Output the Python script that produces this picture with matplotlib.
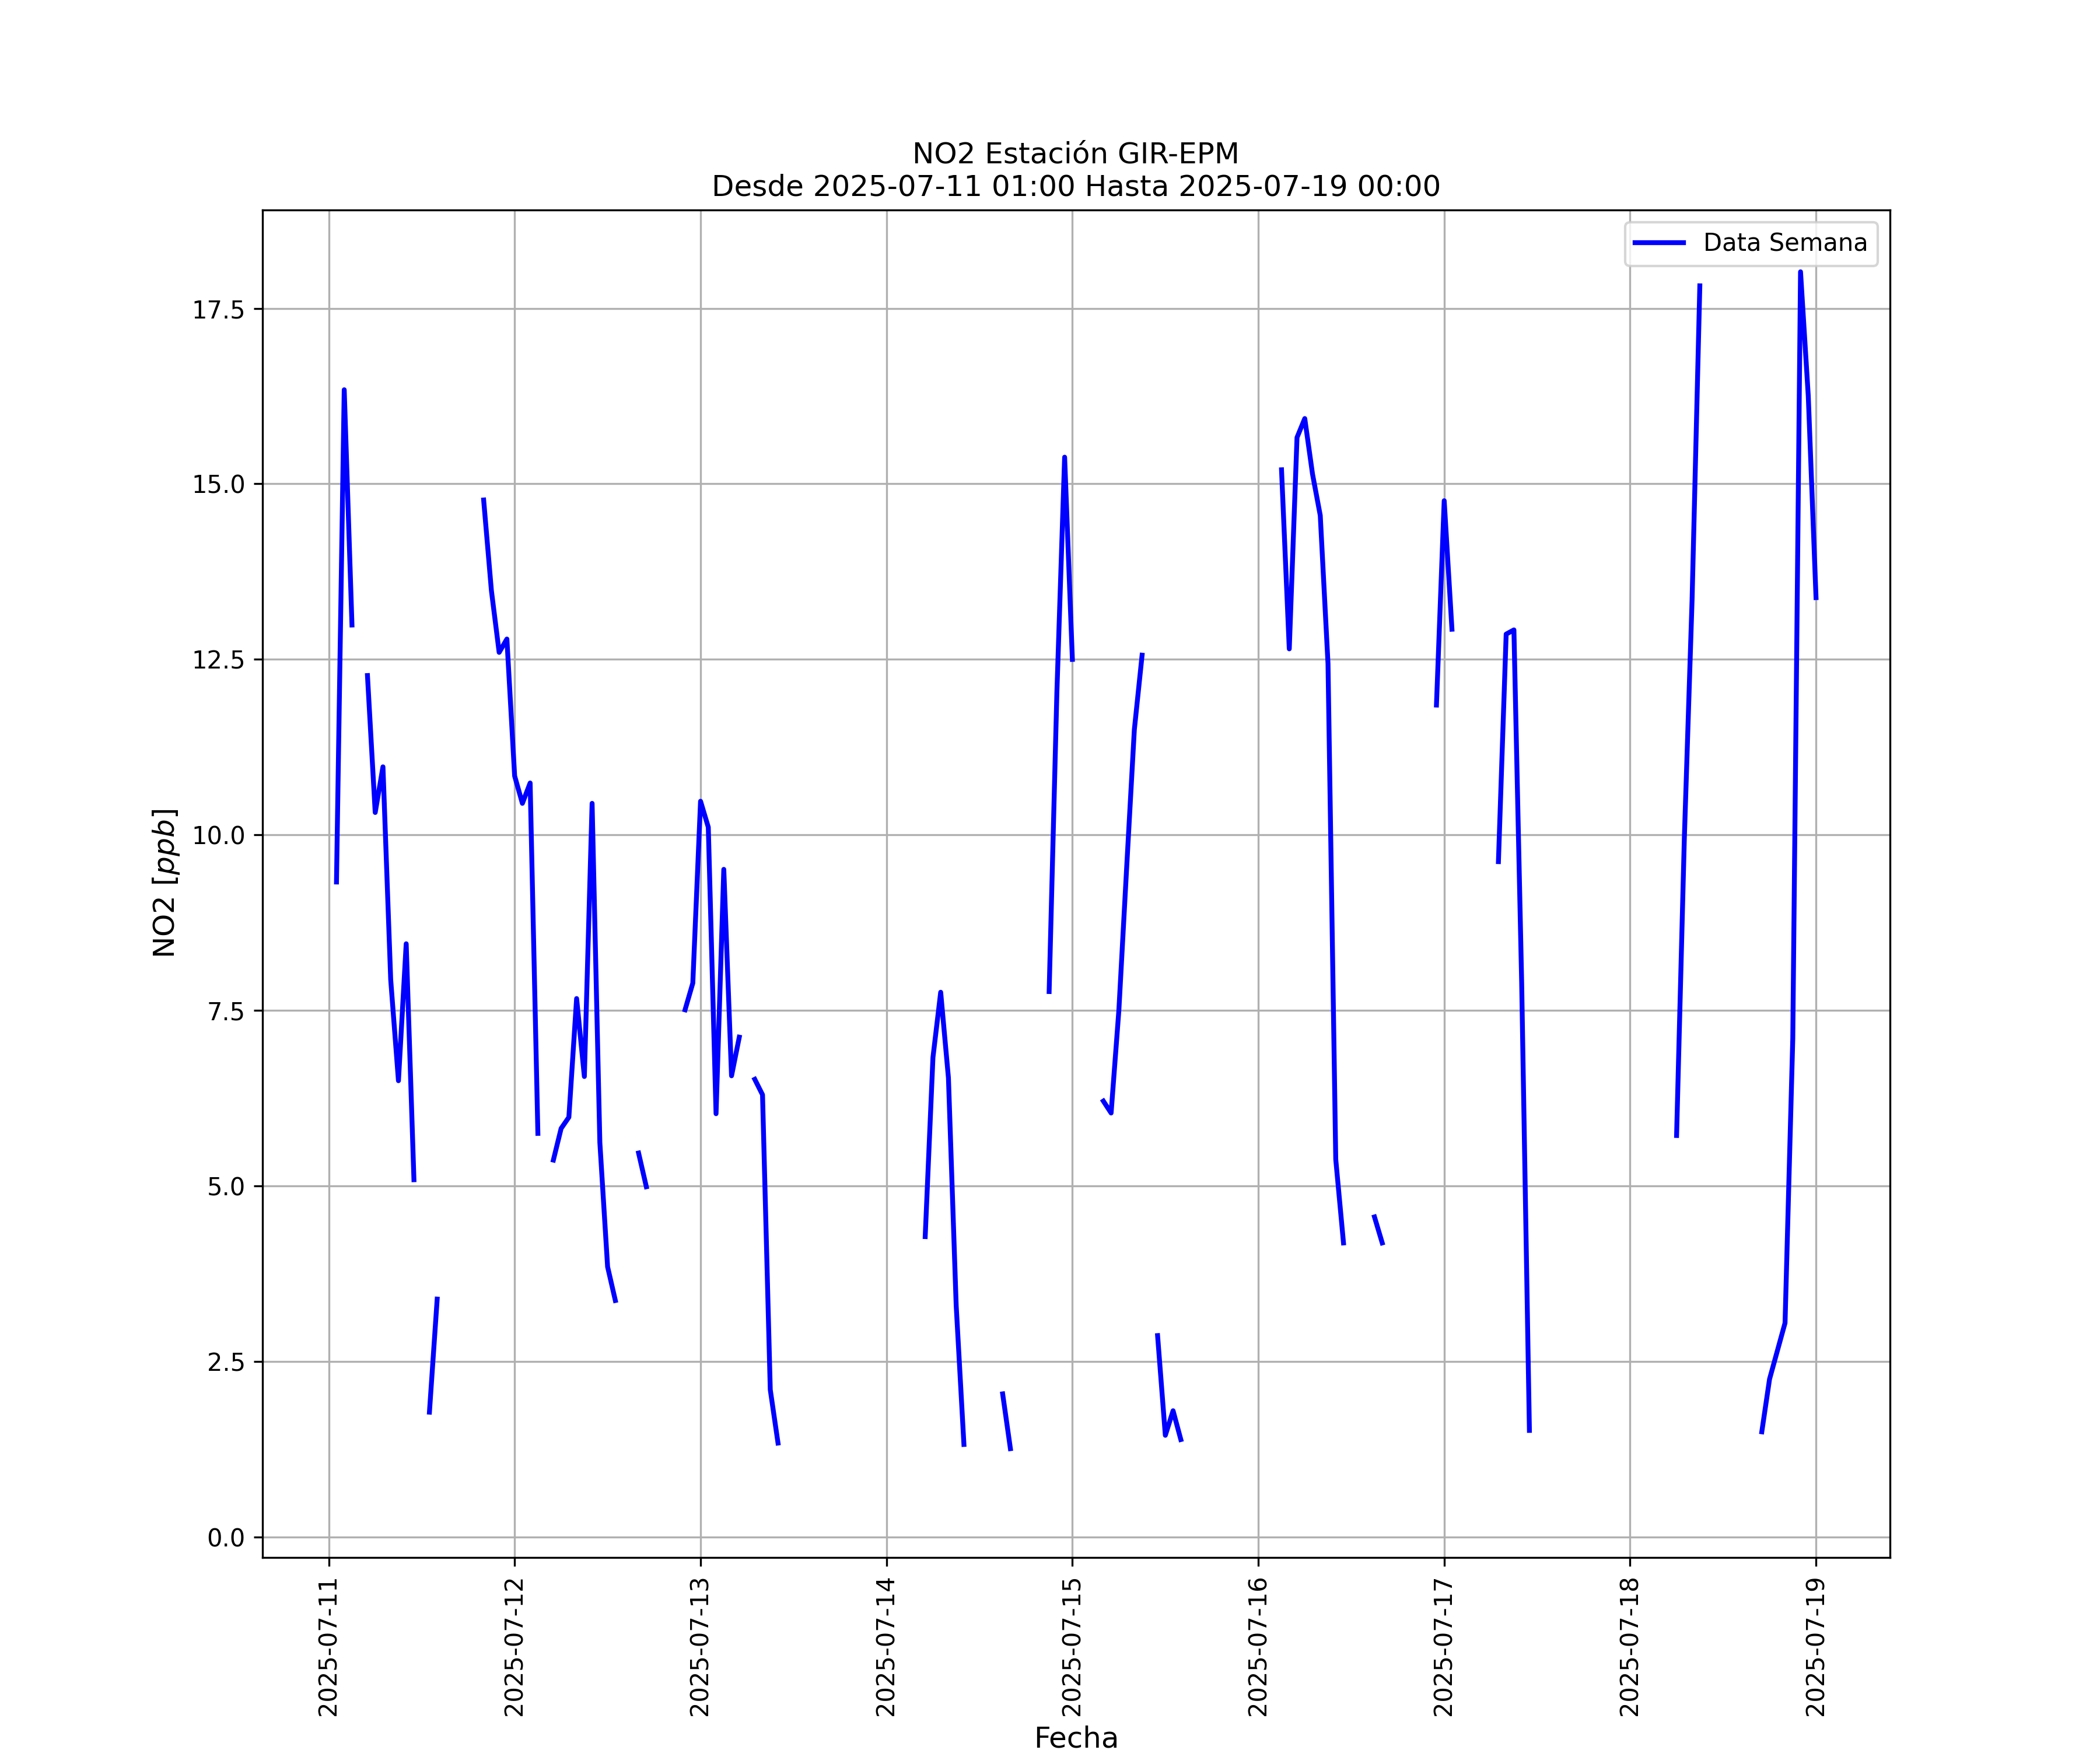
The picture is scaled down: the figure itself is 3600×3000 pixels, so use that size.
import numpy as np
import pandas as pd
import matplotlib
matplotlib.use("Agg")
import matplotlib.pyplot as plt
import matplotlib.dates as mdates

start = "2025-07-11 01:00"
end = "2025-07-19 00:00"

# hourly NO2 values (hour offset from 2025-07-11 00:00 -> value); missing hours are NaN
hours = [1, 2, 3,
         5, 6, 7, 8, 9, 10, 11,
         13, 14,
         20, 21, 22, 23, 24, 25, 26, 27,
         29, 30, 31, 32, 33, 34, 35, 36, 37,
         40, 41,
         46, 47, 48, 49, 50, 51, 52, 53,
         55, 56, 57, 58,
         77, 78, 79, 80, 81, 82,
         87, 88,
         93, 94, 95, 96,
         100, 101, 102, 103, 104, 105,
         107, 108, 109, 110,
         123, 124, 125, 126, 127, 128, 129, 130, 131,
         135, 136,
         143, 144, 145,
         151, 152, 153, 154, 155,
         174, 175, 176, 177,
         185, 186, 187, 188, 189, 190, 191, 192]
values = [9.33, 16.34, 12.99,
          12.27, 10.32, 10.97, 7.94, 6.5, 8.45, 5.09,
          1.78, 3.39,
          14.77, 13.48, 12.6, 12.79, 10.84, 10.45, 10.74, 5.75,
          5.37, 5.82, 5.98, 7.67, 6.56, 10.45, 5.62, 3.85, 3.37,
          5.47, 4.99,
          7.51, 7.89, 10.48, 10.11, 6.03, 9.51, 6.57, 7.12,
          6.52, 6.30, 2.10, 1.34,
          4.28, 6.83, 7.76, 6.54, 3.30, 1.32,
          2.04, 1.26,
          7.77, 12.03, 15.38, 12.5,
          6.21, 6.04, 7.5, 9.52, 11.5, 12.56,
          2.87, 1.45, 1.8, 1.39,
          15.2, 12.65, 15.66, 15.93, 15.14, 14.55, 12.44, 5.38, 4.19,
          4.56, 4.19,
          11.85, 14.76, 12.93,
          9.62, 12.86, 12.92, 7.9, 1.52,
          5.72, 9.95, 13.35, 17.82,
          1.5, 2.25, 2.65, 3.05, 7.1, 18.02, 16.25, 13.38]

idx = pd.date_range("2025-07-11 00:00", end, freq="h")
series = pd.Series(np.nan, index=idx)
series.iloc[hours] = values
series = series.loc[start:end]

fig, ax = plt.subplots(figsize=(12, 10), dpi=300)
ax.plot(series.index, series.values, color="blue", linewidth=2, label="Data Semana")
ax.set_title("NO2 Estación GIR-EPM\nDesde 2025-07-11 01:00 Hasta 2025-07-19 00:00", fontsize=12)
ax.set_xlabel("Fecha", fontsize=12)
ax.set_ylabel("NO2 [$ppb$]", fontsize=12)
ax.set_ylim(-0.29, 18.9)
ax.xaxis.set_major_locator(mdates.DayLocator())
ax.xaxis.set_major_formatter(mdates.DateFormatter("%Y-%m-%d"))
plt.setp(ax.get_xticklabels(), rotation=90)
ax.grid(True)
ax.legend(loc="upper right")
fig.savefig("out.png", dpi=300)
